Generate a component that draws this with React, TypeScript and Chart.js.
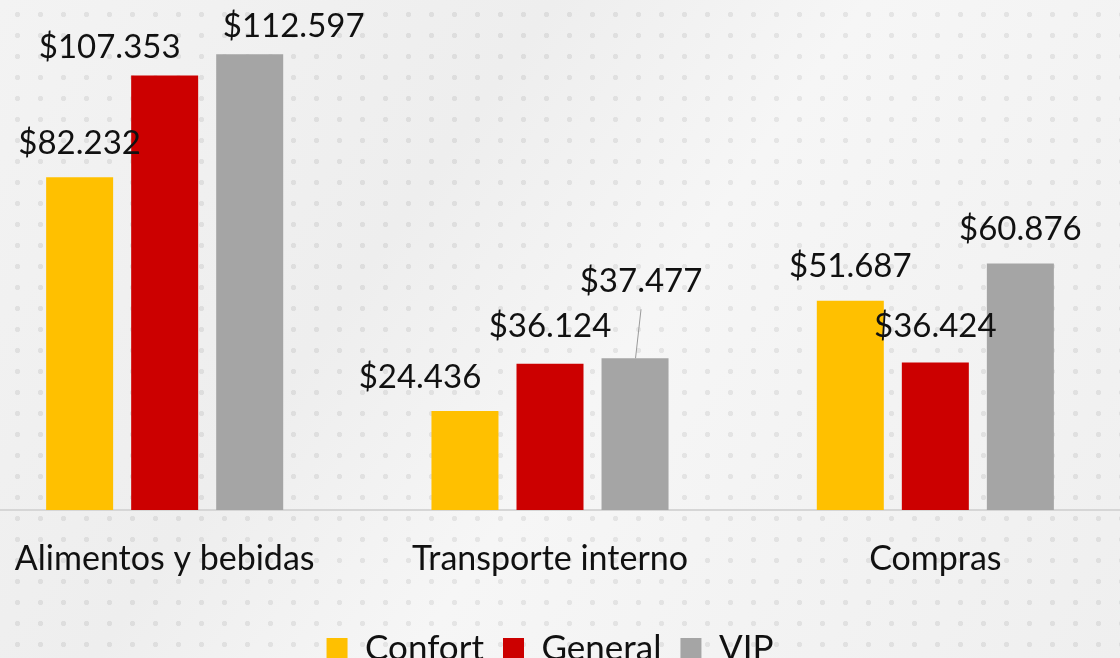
import React, { useEffect, useRef } from "react";
import { Chart, registerables } from "chart.js";

Chart.register(...registerables);

const categories = ["Alimentos y bebidas", "Transporte interno", "Compras"];
const seriesNames = ["Confort", "General", "VIP"];
const confort = [82232, 24436, 51687];
const general = [107353, 36124, 36424];
const vip = [112597, 37477, 60876];
const seriesColors = ["#FFC000", "#CC0000", "#A5A5A5"];

// label nudges [dx, dy] per series, per category
const labelNudges = [
  [[0, 0], [-45, 0], [0, 0]],
  [[-55, 6], [0, -3], [0, -2]],
  [[44, 6], [6, -43], [0, 0]],
];

const fmt = (v: number) =>
  "$" + Math.floor(v / 1000) + "." + String(v % 1000).padStart(3, "0");

const FONT = "Lato";

const labelPlugin = {
  id: "valueLabels",
  afterDatasetsDraw(chart: any) {
    const ctx = chart.ctx;
    ctx.save();
    ctx.font = `33px ${FONT}`;
    ctx.fillStyle = "#111";
    ctx.textAlign = "center";
    ctx.textBaseline = "middle";
    chart.data.datasets.forEach((ds: any, di: number) => {
      const meta = chart.getDatasetMeta(di);
      meta.data.forEach((bar: any, i: number) => {
        const [dx, dy] = labelNudges[di][i];
        const x = bar.x + dx;
        const y = bar.y - 34 + dy;
        ctx.fillText(fmt(ds.data[i]), x, y);
        if (di === 2 && i === 1) {
          ctx.strokeStyle = "#9a9a9a";
          ctx.lineWidth = 1;
          ctx.beginPath();
          ctx.moveTo(x, y + 28);
          ctx.lineTo(bar.x + 0.5, bar.y);
          ctx.stroke();
        }
      });
    });
    ctx.restore();
  },
};

export default function App() {
  const ref = useRef<HTMLCanvasElement>(null);
  useEffect(() => {
    const c = ref.current!;
    const chart = new Chart(c, {
      type: "bar",
      data: {
        labels: categories,
        datasets: [confort, general, vip].map((d, i) => ({
          label: seriesNames[i],
          data: d,
          backgroundColor: seriesColors[i],
          borderWidth: 0,
          barPercentage: 0.788,
          categoryPercentage: 0.662,
        })),
      },
      options: {
        animation: false,
        responsive: false,
        layout: { padding: 0 },
        plugins: {
          tooltip: { enabled: false },
          legend: {
            position: "bottom",
            labels: {
              font: { family: FONT, size: 35 },
              color: "#111",
              boxWidth: 21,
              boxHeight: 21,
              padding: 19,
            },
          },
        },
        scales: {
          x: {
            grid: { display: false, drawTicks: false },
            border: { display: true, color: "#d6d6d6", width: 2 },
            ticks: { font: { family: FONT, size: 34 }, color: "#111", padding: 29 },
            afterFit: (s: any) => {
              s.height = 102;
            },
          },
          y: { display: false, min: 0, max: 126000 },
        },
      },
      plugins: [labelPlugin],
    });
    return () => chart.destroy();
  }, []);
  return (
    <div
      style={{
        position: "fixed",
        left: 0,
        top: 0,
        width: 1120,
        height: 658,
        overflow: "hidden",
        background:
          "radial-gradient(circle, rgba(0,0,0,0.07) 2.3px, transparent 3px) 6px 4px / 23px 21px, linear-gradient(125deg, #f3f3f3 0%, #eeeeee 35%, #f6f6f6 55%, #efefef 100%)",
      }}
    >
      <canvas
        ref={ref}
        width={1156}
        height={676}
        style={{ position: "absolute", left: -28, top: 0 }}
      />
    </div>
  );
}
